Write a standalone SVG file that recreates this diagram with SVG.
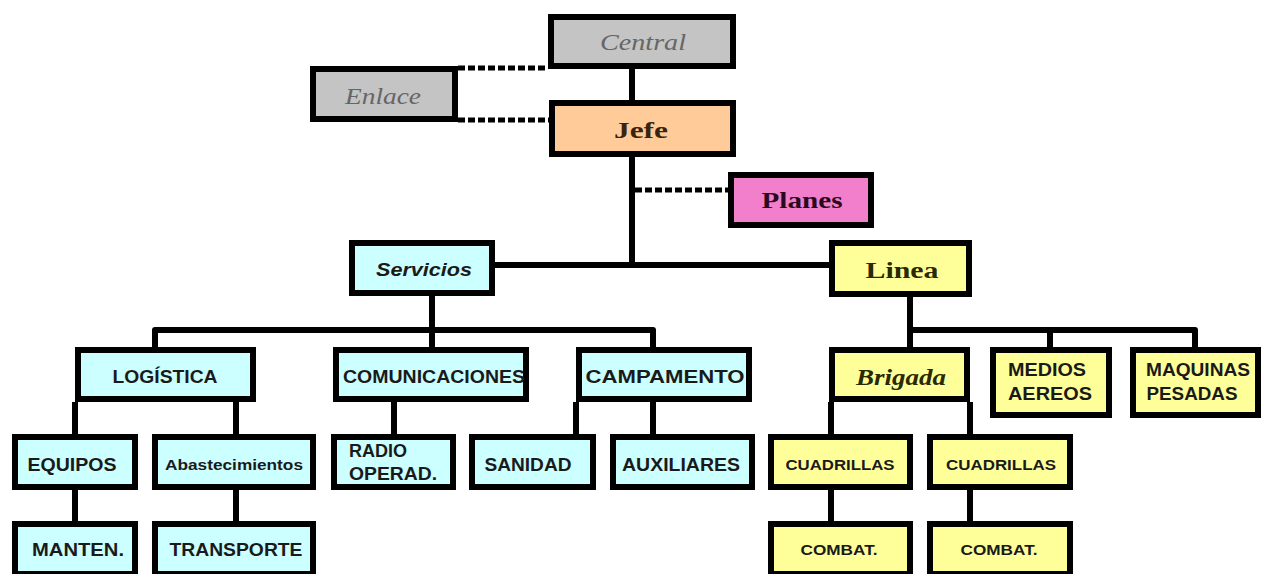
<svg xmlns="http://www.w3.org/2000/svg" width="1263" height="574" viewBox="0 0 1263 574">
<style>
.b{stroke:#000;stroke-width:6}
.g{fill:#C4C4C4}.o{fill:#FFCC99}.p{fill:#F27FCB}.c{fill:#CCFFFF}.y{fill:#FFFF99}
.l{fill:none;stroke:#000;stroke-width:6;stroke-linejoin:round}
.d{fill:none;stroke:#000;stroke-width:5;stroke-dasharray:7,3}
text{text-anchor:middle;dominant-baseline:central}
.s{font-family:"Liberation Sans",Arial,sans-serif;font-weight:bold;font-size:18px;fill:#1a1a1a}
.sm{font-size:15px}
.st{text-anchor:start}
.sr{font-family:"Liberation Serif","Times New Roman",serif;font-size:24px}
</style>
<rect width="1263" height="574" fill="#fff"/>
<g id="connectors">
<path class="l" d="M632 69V100M632 157V265M495 265H829"/>
<path class="d" d="M458 68H548M458 120H549M635 190H728"/>
<path class="l" d="M432 296V330M155 347V330H653V347M432 330V347"/>
<path class="l" d="M910 297V347M910 330H1195V347M1050 330V347"/>
<path class="l" d="M75 402V434M75 490V521M236 402V434M236 490V521M394 402V434M576 402V434M653 402V434M831 402V434M831 490V521M970 402V434M970 490V521"/>
</g>
<g id="central"><rect class="b g" x="551" y="17" width="182" height="49"/><text class="sr" x="643" y="42" font-style="italic" fill="#666" textLength="86" lengthAdjust="spacingAndGlyphs">Central</text></g>
<g id="enlace"><rect class="b g" x="313" y="69" width="142" height="50"/><text class="sr" x="383" y="96" font-style="italic" fill="#666" textLength="76" lengthAdjust="spacingAndGlyphs">Enlace</text></g>
<g id="jefe"><rect class="b o" x="552" y="103" width="181" height="51"/><text class="sr" x="641" y="130" font-weight="bold" fill="#3a2410" textLength="54" lengthAdjust="spacingAndGlyphs">Jefe</text></g>
<g id="planes"><rect class="b p" x="731" y="175" width="140" height="50"/><text class="sr" x="802" y="200" font-weight="bold" fill="#2a0a20" textLength="81" lengthAdjust="spacingAndGlyphs">Planes</text></g>
<g id="servicios"><rect class="b c" x="352" y="243" width="140" height="50"/><text class="s" x="424" y="270" font-style="italic" fill="#222" textLength="96" lengthAdjust="spacingAndGlyphs">Servicios</text></g>
<g id="linea"><rect class="b y" x="832" y="243" width="137" height="51"/><text class="sr" x="902" y="270" font-weight="bold" fill="#2a2a00" textLength="73" lengthAdjust="spacingAndGlyphs">Linea</text></g>
<g id="logistica"><rect class="b c" x="78" y="350" width="175" height="49"/><text class="s" x="165" y="377" textLength="105" lengthAdjust="spacingAndGlyphs">LOGÍSTICA</text></g>
<g id="comunicaciones"><rect class="b c" x="336" y="350" width="190" height="49"/><text class="s" x="434" y="377" textLength="182" lengthAdjust="spacingAndGlyphs">COMUNICACIONES</text></g>
<g id="campamento"><rect class="b c" x="579" y="350" width="170" height="49"/><text class="s" x="665" y="377" textLength="159" lengthAdjust="spacingAndGlyphs">CAMPAMENTO</text></g>
<g id="brigada"><rect class="b y" x="832" y="350" width="135" height="49"/><text class="sr" x="901" y="377" font-weight="bold" font-style="italic" fill="#2a2a00" textLength="90" lengthAdjust="spacingAndGlyphs">Brigada</text></g>
<g id="medios"><rect class="b y" x="993" y="350" width="116" height="65"/><text class="s" x="1047" y="370" textLength="78" lengthAdjust="spacingAndGlyphs">MEDIOS</text><text class="s" x="1050" y="394" textLength="84" lengthAdjust="spacingAndGlyphs">AEREOS</text></g>
<g id="maquinas"><rect class="b y" x="1133" y="350" width="125" height="65"/><text class="s" x="1198" y="370" textLength="104" lengthAdjust="spacingAndGlyphs">MAQUINAS</text><text class="s" x="1192" y="394" textLength="91" lengthAdjust="spacingAndGlyphs">PESADAS</text></g>
<g id="equipos"><rect class="b c" x="15" y="437" width="120" height="50"/><text class="s" x="72" y="465" textLength="89" lengthAdjust="spacingAndGlyphs">EQUIPOS</text></g>
<g id="abastecimientos"><rect class="b c" x="155" y="437" width="158" height="50"/><text class="s sm" x="234" y="464" textLength="138" lengthAdjust="spacingAndGlyphs">Abastecimientos</text></g>
<g id="radio"><rect class="b c" x="334" y="437" width="119" height="50"/><text class="s st" x="349" y="451" textLength="58" lengthAdjust="spacingAndGlyphs">RADIO</text><text class="s st" x="349" y="474" textLength="88" lengthAdjust="spacingAndGlyphs">OPERAD.</text></g>
<g id="sanidad"><rect class="b c" x="472" y="437" width="121" height="50"/><text class="s" x="528" y="465" textLength="87" lengthAdjust="spacingAndGlyphs">SANIDAD</text></g>
<g id="auxiliares"><rect class="b c" x="613" y="437" width="139" height="50"/><text class="s" x="681" y="465" textLength="118" lengthAdjust="spacingAndGlyphs">AUXILIARES</text></g>
<g id="cuadrillas1"><rect class="b y" x="771" y="437" width="139" height="50"/><text class="s sm" x="840" y="464" textLength="109" lengthAdjust="spacingAndGlyphs">CUADRILLAS</text></g>
<g id="cuadrillas2"><rect class="b y" x="930" y="437" width="140" height="50"/><text class="s sm" x="1001" y="464" textLength="110" lengthAdjust="spacingAndGlyphs">CUADRILLAS</text></g>
<g id="manten"><rect class="b c" x="15" y="524" width="120" height="50"/><text class="s" x="78" y="550" textLength="92" lengthAdjust="spacingAndGlyphs">MANTEN.</text></g>
<g id="transporte"><rect class="b c" x="155" y="524" width="158" height="50"/><text class="s" x="236" y="550" textLength="133" lengthAdjust="spacingAndGlyphs">TRANSPORTE</text></g>
<g id="combat1"><rect class="b y" x="771" y="524" width="139" height="50"/><text class="s sm" x="839" y="549" textLength="77" lengthAdjust="spacingAndGlyphs">COMBAT.</text></g>
<g id="combat2"><rect class="b y" x="930" y="524" width="140" height="50"/><text class="s sm" x="999" y="549" textLength="77" lengthAdjust="spacingAndGlyphs">COMBAT.</text></g>
</svg>
